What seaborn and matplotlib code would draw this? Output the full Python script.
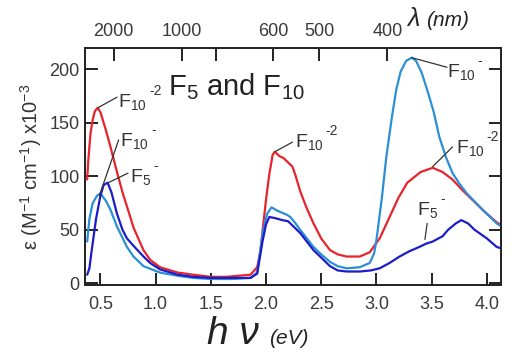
import numpy as np
import pandas as pd
import matplotlib
matplotlib.use("Agg")
import matplotlib.pyplot as plt
import seaborn as sns

# ---- data ----
red_x = [0.38, 0.39, 0.41, 0.43, 0.45, 0.475, 0.50, 0.55, 0.59, 0.65, 0.70, 0.74, 0.80, 0.89, 0.95, 1.04,
         1.20, 1.34, 1.50, 1.64, 1.75, 1.86, 1.92, 1.95, 1.97, 2.00, 2.03, 2.06, 2.08, 2.12, 2.16,
         2.20, 2.24, 2.27, 2.31, 2.37, 2.43, 2.50, 2.58, 2.65, 2.73, 2.85, 2.94, 3.03, 3.12, 3.20,
         3.28, 3.40, 3.51, 3.60, 3.69, 3.78, 3.87, 3.98, 4.09, 4.12]
red_y = [97, 115, 140, 153, 161, 164, 160, 143, 128, 104, 85, 72, 52, 31, 22, 15,
         10, 8, 6, 6, 7, 8, 15, 30, 50, 78, 102, 120, 123, 119, 117,
         113, 109, 100, 86, 70, 56, 42, 31, 27, 25, 25, 29, 42, 62, 80,
         94, 104, 108, 104, 97, 87, 78, 67, 57, 55]

lb_x = [0.38, 0.40, 0.43, 0.47, 0.50, 0.55, 0.59, 0.65, 0.74, 0.80, 0.89, 1.04, 1.20, 1.34, 1.50,
        1.70, 1.86, 1.92, 1.97, 2.01, 2.05, 2.10, 2.19, 2.22, 2.26, 2.31, 2.43, 2.50, 2.58, 2.65,
        2.73, 2.85, 2.94, 2.98, 3.00, 3.05, 3.09, 3.14, 3.18, 3.22, 3.27, 3.32, 3.36, 3.41, 3.46,
        3.52, 3.57, 3.63, 3.69, 3.76, 3.82, 3.95, 4.09, 4.12]
lb_y = [39, 60, 75, 82, 84, 77, 69, 53, 34, 25, 16, 10, 7, 5, 4,
        4, 5, 10, 47, 65, 71, 68, 64, 62, 57, 50, 34, 27, 20, 16,
        14, 15, 19, 28, 40, 80, 118, 155, 181, 198, 208, 211, 208, 197, 181,
        160, 137, 118, 103, 92, 84, 70, 56, 54]

db_x = [0.38, 0.40, 0.42, 0.46, 0.50, 0.53, 0.565, 0.60, 0.65, 0.70, 0.74, 0.80, 0.89, 0.95, 1.04,
        1.20, 1.34, 1.50, 1.70, 1.86, 1.92, 1.97, 2.00, 2.03, 2.08, 2.15, 2.20, 2.25, 2.31, 2.43,
        2.50, 2.58, 2.65, 2.73, 2.85, 2.95, 3.03, 3.12, 3.21, 3.30, 3.39, 3.45, 3.51, 3.60, 3.65,
        3.72, 3.77, 3.83, 3.89, 4.00, 4.09, 4.12]
db_y = [8, 14, 30, 60, 82, 92, 94, 85, 65, 50, 42, 35, 25, 19, 13,
        8, 6, 5, 5, 5, 9, 40, 55, 62, 61, 59, 58, 53, 47, 31,
        24, 16, 12, 11, 11, 12, 14, 19, 25, 30, 34, 37, 39, 44, 50,
        56, 59, 56, 50, 42, 34, 33]

series_names = ["F10-2", "F10-", "F5-"]
series_colors = ["#e8232b", "#2b8fd6", "#1c1ccc"]

x_ticks = [0.5, 1.0, 1.5, 2.0, 2.5, 3.0, 3.5, 4.0]
x_ticklabels = ["0.5", "1.0", "1.5", "2.0", "2.5", "3.0", "3.5", "4.0"]
y_ticks = [0, 50, 100, 150, 200]
wl_ticks = [2000, 1000, 800, 600, 500, 400]
wl_labels = ["2000", "1000", "", "600", "500", "400"]

df = pd.concat([
    pd.DataFrame({"eV": red_x, "eps": red_y, "s": series_names[0]}),
    pd.DataFrame({"eV": lb_x, "eps": lb_y, "s": series_names[1]}),
    pd.DataFrame({"eV": db_x, "eps": db_y, "s": series_names[2]}),
], ignore_index=True)

sns.set_theme(style="ticks")
plt.rcParams["font.family"] = ["Liberation Sans", "DejaVu Sans"]
plt.rcParams["mathtext.fontset"] = "custom"
plt.rcParams["mathtext.rm"] = "Liberation Sans"
plt.rcParams["mathtext.it"] = "Liberation Sans:italic"
plt.rcParams["mathtext.bf"] = "Liberation Sans:bold"

fig = plt.figure(figsize=(5.15, 3.53), dpi=100)
ax = fig.add_axes([0.165, 0.193, 0.808, 0.671])

sns.lineplot(data=df, x="eV", y="eps", hue="s", palette=dict(zip(series_names, series_colors)),
             sort=False, estimator=None, linewidth=1.6, legend=False, ax=ax)

xlim = (0.36, 4.13)
ax.set_xlim(*xlim)
ax.set_ylim(-1.5, 220)
ax.set_xticks(x_ticks)
ax.set_xticklabels(x_ticklabels)
ax.set_yticks(y_ticks)
ax.set_xlabel("")
ax.set_ylabel(r"ε (M$^{-1}$ cm$^{-1}$) x10$^{-3}$", fontsize=14.5, color="#333333", labelpad=4)
for sp in ax.spines.values():
    sp.set_visible(True)
    sp.set_linewidth(1.3)
    sp.set_color("#111111")
ax.tick_params(axis="both", direction="in", length=9, width=1.3, color="#111111",
               labelsize=13, labelcolor="#3a3a3a", right=True, top=False)
ax.tick_params(axis="x", pad=8)
ax.tick_params(axis="y", pad=4)

ax2 = ax.twiny()
ax2.set_xlim(*xlim)
ax2.set_xticks([1239.84 / w for w in wl_ticks])
ax2.set_xticklabels(wl_labels)
ax2.tick_params(axis="x", direction="in", length=9, width=1.3, color="#111111",
                labelsize=13, labelcolor="#3a3a3a", pad=6)
for sp in ax2.spines.values():
    sp.set_linewidth(1.3)

tc = "#333333"
lc = "#333333"
# title inside
ax.text(1.11, 176, r"F$_{5}$ and F$_{10}$", fontsize=21, color="#222222")

labels = [
    ("10", "-2", (0.663, 165), (0.475, 164), (0.65, 174)),
    ("10", "-", (0.68, 128), (0.49, 82), (0.665, 134)),
    ("5", "-", (0.77, 95), (0.57, 94), (0.75, 103)),
    ("10", "-2", (2.26, 127), (2.08, 123), (2.24, 132)),
    ("10", "-", (3.64, 193), (3.32, 211), (3.64, 202)),
    ("10", "-2", (3.72, 122), (3.51, 109), (3.69, 127.5)),
    ("5", "-", (3.37, 64), (3.44, 41), (3.46, 56)),
]
mains = []
for sub, sup, tpos, p0, p1 in labels:
    t = ax.text(tpos[0], tpos[1], r"F$_{%s}$" % sub, fontsize=14, color=tc, ha="left", va="baseline")
    mains.append((t, sup, tpos))
    ax.plot([p0[0], p1[0]], [p0[1], p1[1]], color=lc, linewidth=0.9)

fig.canvas.draw()
renderer = fig.canvas.get_renderer()
for t, sup, tpos in mains:
    bb = t.get_window_extent(renderer)
    bx, by = ax.transData.transform(tpos)
    # place superscript right after subscript, above cap height
    xd = bb.x1 + 2
    yd = by + 12
    xdat, ydat = ax.transData.inverted().transform((xd, yd))
    ax.text(xdat, ydat, sup, fontsize=10, color=tc, ha="left", va="baseline")

fig.text(0.402, 0.025, "h ν", fontsize=28, fontstyle="italic", color="#222222", ha="left", va="baseline")
fig.text(0.522, 0.025, "(eV)", fontsize=15, fontstyle="italic", color="#222222", ha="left", va="baseline")
fig.text(0.79, 0.925, "λ", fontsize=18, fontstyle="italic", color="#222222", ha="left", va="baseline")
fig.text(0.828, 0.925, "(nm)", fontsize=15, fontstyle="italic", color="#222222", ha="left", va="baseline")

fig.savefig("out.png", dpi=100)
